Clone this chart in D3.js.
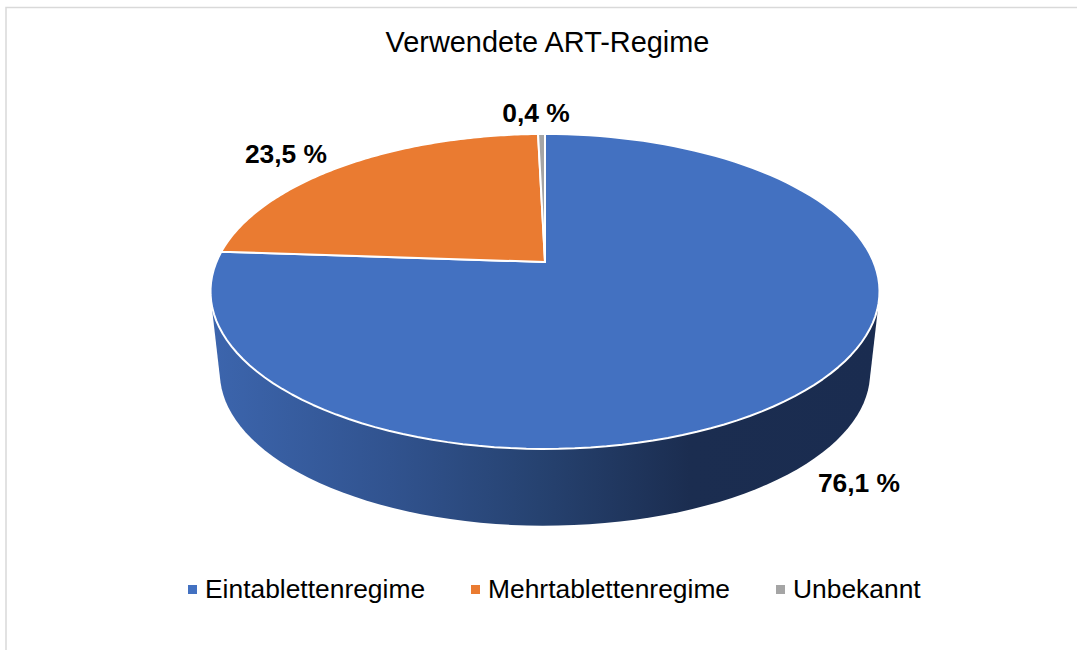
<!DOCTYPE html>
<html>
<head>
<meta charset="utf-8">
<script src="https://cdn.jsdelivr.net/npm/d3@7"></script>
<style>
  html, body { margin: 0; padding: 0; background: #fff; }
  text { font-family: "Liberation Sans", Arial, sans-serif; fill: #000; }
</style>
</head>
<body>
<div id="chart"></div>
<script>
// data
const categories = ["Eintablettenregime", "Mehrtablettenregime", "Unbekannt"];
const values = [76.1, 23.5, 0.4];
const valueLabels = ["76,1 %", "23,5 %", "0,4 %"];
const colors = ["#4371c1", "#ea7b31", "#a5a5a5"];

const width = 1077, height = 650;

const svg = d3.select("#chart").append("svg")
    .attr("width", width)
    .attr("height", height)
    .style("display", "block");

// chart frame
svg.append("rect")
    .attr("x", 6).attr("y", 7.5)
    .attr("width", 1200).attr("height", 800)
    .attr("fill", "#fff")
    .attr("stroke", "#d9d9d9")
    .attr("stroke-width", 1.5);

// title
svg.append("text")
    .attr("x", 547.5).attr("y", 52)
    .attr("text-anchor", "middle")
    .style("font-size", "28.9px")
    .text("Verwendete ART-Regime");

// the pie is tilted with some perspective, so the centre of the disc sits above the middle of the ellipse
const tilt = {cx: 545, cy: 262, a: 328.6, b: 152, k: 0.187};
const depth = {dy: 82, scale: 0.972};

function project(angle, r, level) {
    let u = r * Math.sin(angle), v = -r * Math.cos(angle);
    let w = 1 - tilt.k * v;
    let s = level ? depth.scale : 1;
    return [
        tilt.cx + s * tilt.a * u / w,
        tilt.cy + (level ? depth.dy : 0) + s * tilt.b * v / w
    ];
}

const pie = d3.pie().sort(null).value(d => d);
const slices = pie(values);
const line = d3.line();

function arcPoints(d, level) {
    return d3.range(0, 121).map(i => project(d.startAngle + (d.endAngle - d.startAngle) * i / 120, 1, level));
}

// side wall gradient
const grad = svg.append("defs").append("linearGradient")
    .attr("id", "sideGrad")
    .attr("gradientUnits", "userSpaceOnUse")
    .attr("x1", 212).attr("x2", 880).attr("y1", 0).attr("y2", 0);
[[0, "#3c65ad"], [0.266, "#31538f"], [0.49, "#264270"], [0.716, "#1b2d50"], [1, "#1a2c50"]].forEach(s => {
    grad.append("stop").attr("offset", s[0]).attr("stop-color", s[1]);
});

// side wall: hull of the blue rim at both levels
const hull = d3.polygonHull(arcPoints(slices[0], 0).concat(arcPoints(slices[0], 1)));
svg.append("path")
    .attr("d", line(hull) + "Z")
    .attr("fill", "url(#sideGrad)");

// top face
svg.selectAll("path.slice")
    .data(slices)
    .enter()
    .append("path")
    .attr("class", "slice")
    .attr("d", d => line([project(0, 0, 0)].concat(arcPoints(d, 0))) + "Z")
    .attr("fill", (d, i) => colors[i])
    .attr("stroke", "#fff")
    .attr("stroke-width", 2)
    .attr("stroke-linejoin", "round");

// value labels
const labelPos = [[859, 492], [286, 163], [536, 122]];
svg.selectAll("text.val")
    .data(valueLabels)
    .enter()
    .append("text")
    .attr("class", "val")
    .attr("x", (d, i) => labelPos[i][0])
    .attr("y", (d, i) => labelPos[i][1])
    .attr("text-anchor", "middle")
    .style("font-size", "26.4px")
    .style("font-weight", "bold")
    .text(d => d);

// legend
const legendX = [188, 471, 776];
const legend = svg.selectAll("g.leg")
    .data(categories)
    .enter()
    .append("g")
    .attr("class", "leg")
    .attr("transform", (d, i) => "translate(" + legendX[i] + ",0)");
legend.append("rect")
    .attr("x", 0).attr("y", 585)
    .attr("width", 9).attr("height", 9)
    .attr("fill", (d, i) => colors[i]);
legend.append("text")
    .attr("x", 17).attr("y", 597.5)
    .style("font-size", "26.4px")
    .text(d => d);
</script>
</body>
</html>
